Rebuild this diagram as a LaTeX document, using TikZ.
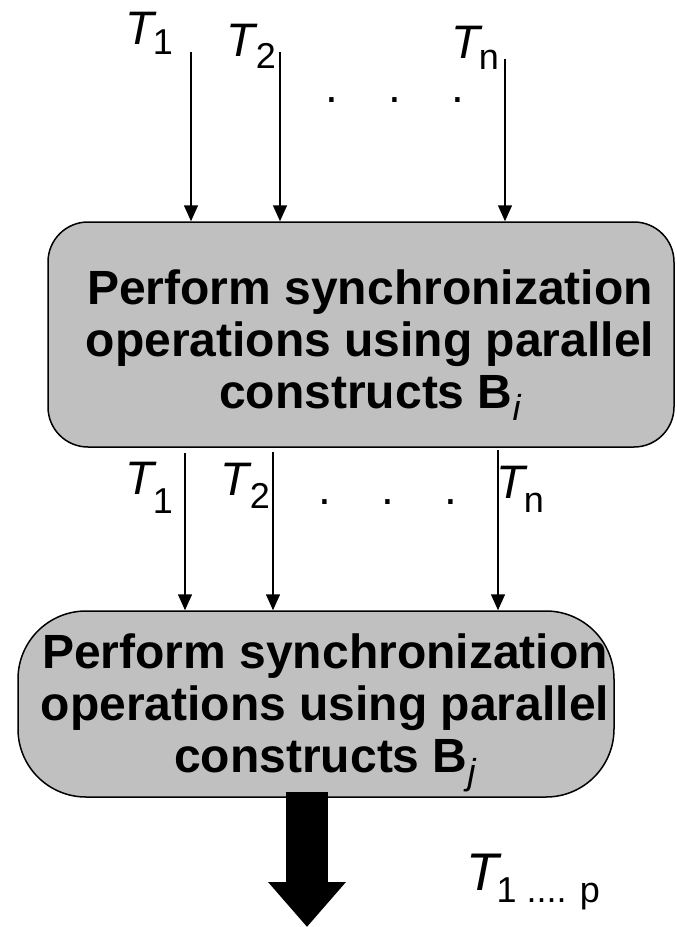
\documentclass[tikz,border=0pt]{standalone}
\usepackage{fontspec}
\setmainfont{Liberation Sans}
\usetikzlibrary{arrows.meta}
\definecolor{boxgray}{RGB}{192,192,192}
\newcommand\tlab[4][47]{{\fontsize{#1}{#1}\selectfont\itshape T}\kern#3\raisebox{-#4}{\fontsize{36}{36}\selectfont #2}}
\newcommand\subit[1]{\raisebox{-12pt}{\fontsize{36}{36}\selectfont\mdseries\itshape #1}}
\begin{document}
\begin{tikzpicture}[x=1pt,y=-1pt,
  procbox/.style={draw=black,line width=1.5pt,fill=boxgray,inner sep=0pt},
  proctext/.style={align=center,inner sep=0pt,font=\fontsize{48}{52}\selectfont\bfseries},
  tl/.style={anchor=base west,inner sep=0pt},
  dots/.style={anchor=base,inner sep=0pt,font=\fontsize{46}{46}\selectfont},
  arr/.style={line width=1.5pt,-{Triangle[width=14pt,length=16pt]}},
  bigarr/.style={line width=42pt,-{Triangle[width=75pt,length=45pt]}}]
\useasboundingbox (0,0) rectangle (677,927);
% boxes
\node[procbox,rounded corners=40pt,minimum width=626pt,minimum height=225pt] (b1) at (361,334.5) {};
\node[proctext,anchor=base] (b1t) at (370,408) {Perform synchronization\\operations using parallel\\constructs B\subit{i}};
\node[procbox,rounded corners=68pt,minimum width=596pt,minimum height=186pt] (b2) at (316,704) {};
\node[proctext,anchor=base] (b2t) at (325,772) {Perform synchronization\\operations using parallel\\constructs B\subit{j}};
% top inputs
\coordinate (s1) at (191,52);
\coordinate (s2) at (280,52);
\coordinate (s3) at (505,59);
\draw[arr] (s1) -- (s1 |- b1.north);
\draw[arr] (s2) -- (s2 |- b1.north);
\draw[arr] (s3) -- (s3 |- b1.north);
\node[tl] (lt1) at (125,44) {\tlab{1}{-1pt}{10pt}};
\node[tl] (lt2) at (226,56) {\tlab{2}{1pt}{12pt}};
\node[tl] (lt3) at (451,58) {\tlab{n}{-1pt}{11pt}};
\node[dots] (dt) at (395,102) {.\hspace{50pt}.\hspace{50pt}.};
% middle
\coordinate (m1) at (185,453);
\coordinate (m2) at (273,452);
\coordinate (m3) at (498,450);
\draw[arr] (m1) -- (m1 |- b2.north);
\draw[arr] (m2) -- (m2 |- b2.north);
\draw[arr] (m3) -- (m3 |- b2.north);
\node[tl] (lm1) at (125,494) {\tlab{1}{-1pt}{19pt}};
\node[tl] (lm2) at (220,495) {\tlab{2}{1pt}{13pt}};
\node[tl] (lm3) at (496,498) {\tlab{n}{-1pt}{14pt}};
\node[dots] (dm) at (388,504) {.\hspace{50pt}.\hspace{50pt}.};
% output
\coordinate (bs) at (307,792);
\coordinate (bt) at (307,927);
\draw[bigarr] (bs) -- (bt);
\node[tl] (lo) at (466,890) {\tlab[53]{1 .... p}{-2pt}{12pt}};
\end{tikzpicture}
\end{document}
